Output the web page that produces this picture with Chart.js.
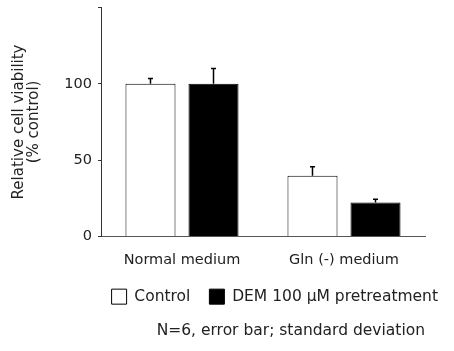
<!DOCTYPE html>
<html>
<head>
<meta charset="utf-8">
<script src="https://cdn.jsdelivr.net/npm/chart.js@4/dist/chart.umd.min.js"></script>
<style>
html,body{margin:0;padding:0;background:#fff;}
#wrap{width:454px;height:351px;position:relative;}
</style>
</head>
<body>
<div id="wrap"><canvas id="c" width="454" height="351"></canvas></div>
<script>
const categories = ['Normal medium', 'Gln (-) medium'];
const seriesNames = ['Control', 'DEM 100 μM pretreatment'];
const controlValues = [100, 39.7];
const controlSD = [3.5, 6];
const demValues = [100, 22.2];
const demSD = [10, 2.2];
const yTicks = [0, 50, 100, 150];
const footnote = 'N=6, error bar; standard deviation';

Chart.defaults.font.family = "'DejaVu Sans', Verdana, sans-serif";
Chart.defaults.font.size = 15;
Chart.defaults.color = '#222';

const errorBars = {
  id: 'errorBars',
  afterDatasetsDraw(chart) {
    const ctx = chart.ctx;
    const ys = chart.scales.y;
    chart.data.datasets.forEach((ds, i) => {
      const meta = chart.getDatasetMeta(i);
      meta.data.forEach((el, j) => {
        const top = ys.getPixelForValue(ds.data[j] + ds.sd[j]);
        ctx.save();
        ctx.strokeStyle = '#000';
        ctx.lineWidth = 1.5;
        ctx.beginPath();
        ctx.moveTo(el.x, el.y);
        ctx.lineTo(el.x, top);
        ctx.moveTo(el.x - 2.5, top);
        ctx.lineTo(el.x + 2.5, top);
        ctx.stroke();
        ctx.restore();
      });
    });
  }
};

new Chart(document.getElementById('c'), {
  type: 'bar',
  data: {
    labels: categories,
    datasets: [
      { label: seriesNames[0], data: controlValues, sd: controlSD,
        backgroundColor: '#fff', borderColor: '#000', borderWidth: 1,
        categoryPercentage: 0.778, barPercentage: 0.794 },
      { label: seriesNames[1], data: demValues, sd: demSD,
        backgroundColor: '#000', borderColor: '#000', borderWidth: 1,
        categoryPercentage: 0.778, barPercentage: 0.794 }
    ]
  },
  options: {
    responsive: false,
    animation: false,
    layout: { padding: { left: 0, right: -3, top: 7, bottom: 11 } },
    scales: {
      x: {
        grid: { display: false, drawTicks: true, tickLength: 15 },
        border: { display: true, color: '#555', width: 1 },
        ticks: { font: { size: 14.5, lineHeight: 0.1 }, color: '#222', padding: 8.5, maxRotation: 0, autoSkip: false }
      },
      y: {
        min: 0, max: 150,
        afterBuildTicks(s) { s.ticks = yTicks.map(v => ({ value: v })); },
        ticks: { font: { size: 14.5, lineHeight: 0.2 }, color: '#222', padding: 6,
          callback: v => (v === 150 ? '' : v) },
        grid: { drawOnChartArea: false, drawTicks: true, tickLength: 3, color: '#333' },
        border: { display: true, color: '#333', width: 1 },
        title: { display: true, text: ['Relative cell viability', '(% control)'],
          font: { size: 15, lineHeight: 1.0 }, color: '#222', padding: { top: 12, bottom: 0 } },
        afterFit(s) { s.width = 101; }
      },
      y2: {
        position: 'right', display: true,
        ticks: { display: false }, grid: { display: false },
        border: { display: false },
        afterFit(s) { s.width = 32; }
      }
    },
    plugins: {
      legend: {
        position: 'bottom', align: 'end',
        labels: { boxWidth: 15, boxHeight: 15, padding: 19, font: { size: 15.5 }, color: '#222' }
      },
      subtitle: {
        display: true, text: footnote, position: 'bottom', align: 'end', fullSize: false,
        font: { size: 15.5, weight: 'normal' }, color: '#222', padding: { top: 7, bottom: 0 }
      },
      tooltip: { enabled: false }
    }
  },
  plugins: [errorBars]
});
</script>
</body>
</html>
